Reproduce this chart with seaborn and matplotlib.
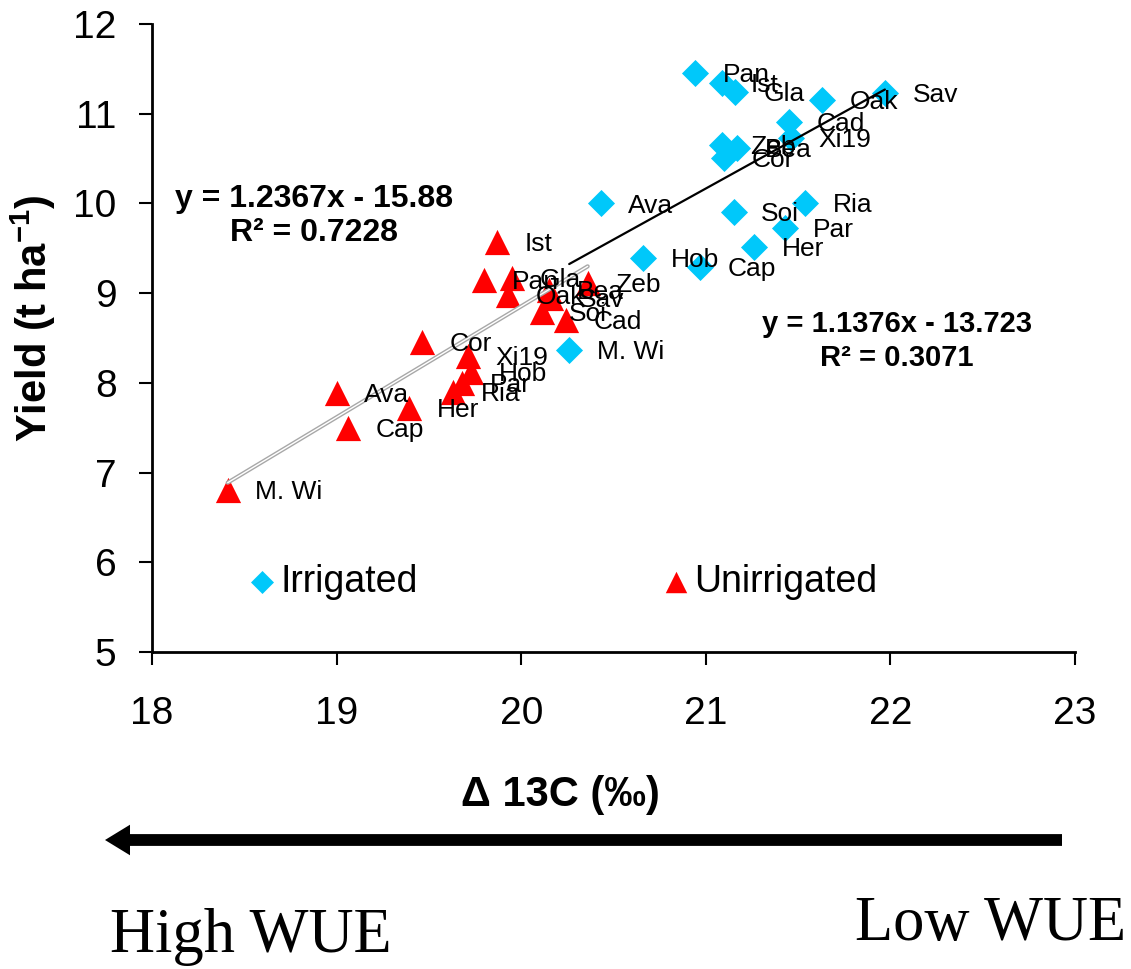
import matplotlib
matplotlib.use('Agg')
import matplotlib.pyplot as plt
import matplotlib.patheffects as pe
from matplotlib import font_manager
from matplotlib.patches import FancyArrowPatch
import numpy as np
import pandas as pd
import seaborn as sns

# varieties (same 18 in both treatments)
varieties = ['Ava', 'Bea', 'Cad', 'Cap', 'Cor', 'Gla', 'Her', 'Hob', 'Ist',
             'M. Wi', 'Oak', 'Pan', 'Par', 'Ria', 'Sav', 'Soi', 'Xi19', 'Zeb']

d13c_irrigated = [20.43, 21.17, 21.45, 20.97, 21.10, 21.16, 21.26, 20.66, 21.09,
                  20.26, 21.63, 20.94, 21.43, 21.54, 21.97, 21.15, 21.46, 21.09]
yield_irrigated = [10.00, 10.62, 10.91, 9.29, 10.51, 11.24, 9.52, 9.39, 11.34,
                   8.37, 11.15, 11.45, 9.73, 10.01, 11.23, 9.91, 10.73, 10.65]

d13c_unirrigated = [19.00, 20.15, 20.24, 19.06, 19.46, 19.95, 19.39, 19.73, 19.87,
                    18.41, 19.93, 19.80, 19.68, 19.63, 20.16, 20.11, 19.71, 20.36]
yield_unirrigated = [7.89, 9.04, 8.70, 7.50, 8.46, 9.17, 7.72, 8.12, 9.57,
                     6.81, 8.98, 9.15, 8.00, 7.90, 8.95, 8.79, 8.30, 9.11]

# trend lines as printed on the chart
fit_irrigated = (1.1376, -13.723)
r2_irrigated = 0.3071
fit_unirrigated = (1.2367, -15.88)
r2_unirrigated = 0.7228

x_ticks = [18, 19, 20, 21, 22, 23]
y_ticks = [5, 6, 7, 8, 9, 10, 11, 12]

sns.set_style('ticks')
plt.rcParams['font.family'] = ['Liberation Sans', 'DejaVu Sans']
plt.rcParams['mathtext.fontset'] = 'custom'
plt.rcParams['mathtext.rm'] = 'Liberation Sans:bold'
plt.rcParams['mathtext.default'] = 'rm'
for key in ['text.color', 'axes.labelcolor', 'xtick.color', 'ytick.color']:
    plt.rcParams[key] = 'black'


def pick_font(name, fallback):
    try:
        font_manager.findfont(font_manager.FontProperties(family=name),
                              fallback_to_default=False)
        return name
    except ValueError:
        return fallback


narrow = pick_font('Liberation Sans Narrow', 'Liberation Sans')

n = len(varieties)
df = pd.DataFrame({
    'variety': varieties * 2,
    'd13c': d13c_irrigated + d13c_unirrigated,
    'yield': yield_irrigated + yield_unirrigated,
    'treatment': ['Irrigated'] * n + ['Unirrigated'] * n,
})

colors = {'Irrigated': '#00C8FA', 'Unirrigated': '#FF0000'}
markers = {'Irrigated': 'D', 'Unirrigated': '^'}
sizes = {'Irrigated': 190, 'Unirrigated': 330}
fits = {'Irrigated': fit_irrigated, 'Unirrigated': fit_unirrigated}

fig = plt.figure(figsize=(11.31, 9.69), dpi=100)
ax = fig.add_axes([0.1344, 0.3271, 0.8161, 0.6481])

for trt in ['Irrigated', 'Unirrigated']:
    sub = df[df['treatment'] == trt]
    sns.scatterplot(data=sub, x='d13c', y='yield', marker=markers[trt],
                    color=colors[trt], s=sizes[trt], linewidth=0,
                    label=trt, ax=ax, zorder=3)
    a, b = fits[trt]
    xs = np.array([sub['d13c'].min(), sub['d13c'].max()])
    if trt == 'Irrigated':
        ax.plot(xs, a * xs + b, color='black', lw=1.6, zorder=4)
    else:
        ax.plot(xs, a * xs + b, color='white', lw=1.0, zorder=4,
                path_effects=[pe.Stroke(linewidth=3, foreground='#a8a8a8'), pe.Normal()])
    for _, r in sub.iterrows():
        ax.annotate(r['variety'], (r['d13c'], r['yield']), xytext=(20, -1.5),
                    textcoords='offset points', ha='left', va='center',
                    fontsize=19, zorder=5)

ax.text(0.1755, 0.694,
        f'y = {fit_unirrigated[0]}x - {abs(fit_unirrigated[1])}\nR² = {r2_unirrigated}',
        transform=ax.transAxes, ha='center', va='center', fontsize=23,
        fontweight='bold', linespacing=1.15)
ax.text(0.807, 0.495,
        f'y = {fit_irrigated[0]}x - {abs(fit_irrigated[1])}\nR² = {r2_irrigated}',
        transform=ax.transAxes, ha='center', va='center', fontsize=21,
        fontweight='bold', linespacing=1.25)

ax.set_xlim(18, 23)
ax.set_ylim(5, 12)
ax.set_xticks(x_ticks)
ax.set_yticks(y_ticks)
sns.despine(ax=ax)
for side in ['left', 'bottom']:
    ax.spines[side].set_linewidth(2)
    ax.spines[side].set_color('black')
ax.tick_params(axis='both', direction='out', length=9.5, width=1.5, color='black')
ax.tick_params(axis='y', labelsize=28, pad=16)
ax.tick_params(axis='x', labelsize=28, pad=22)
for lab in ax.get_xticklabels():
    lab.set_family(narrow)

ax.set_xlabel('Δ 13C (‰)', fontsize=30, fontweight='bold', family=narrow)
ax.xaxis.set_label_coords(0.442, -0.195)
ax.set_ylabel('Yield (t ha$^{-1}$)', fontsize=30, fontweight='bold')
ax.yaxis.set_label_coords(-0.102, 0.532)

ax.legend(loc='center left', bbox_to_anchor=(0.103, 0.111), ncol=2,
          frameon=False, fontsize=27, markerscale=0.85, handlelength=0.8,
          handletextpad=0.08, columnspacing=6.5, borderpad=0, borderaxespad=0)

arrow = FancyArrowPatch((1062 / 1131, 1 - 840 / 969), (105 / 1131, 1 - 840 / 969),
                        transform=fig.transFigure,
                        arrowstyle='simple,head_length=1.8,head_width=2.2,tail_width=0.85',
                        mutation_scale=10, color='black', lw=0,
                        shrinkA=0, shrinkB=0)
fig.add_artist(arrow)

fig.text(110 / 1131, 1 - 952 / 969, 'High WUE', family='Liberation Serif',
         fontsize=45, ha='left', va='baseline')
fig.text(1126 / 1131, 1 - 940 / 969, 'Low WUE', family='Liberation Serif',
         fontsize=45, ha='right', va='baseline')

fig.savefig('out.png', dpi=100)
